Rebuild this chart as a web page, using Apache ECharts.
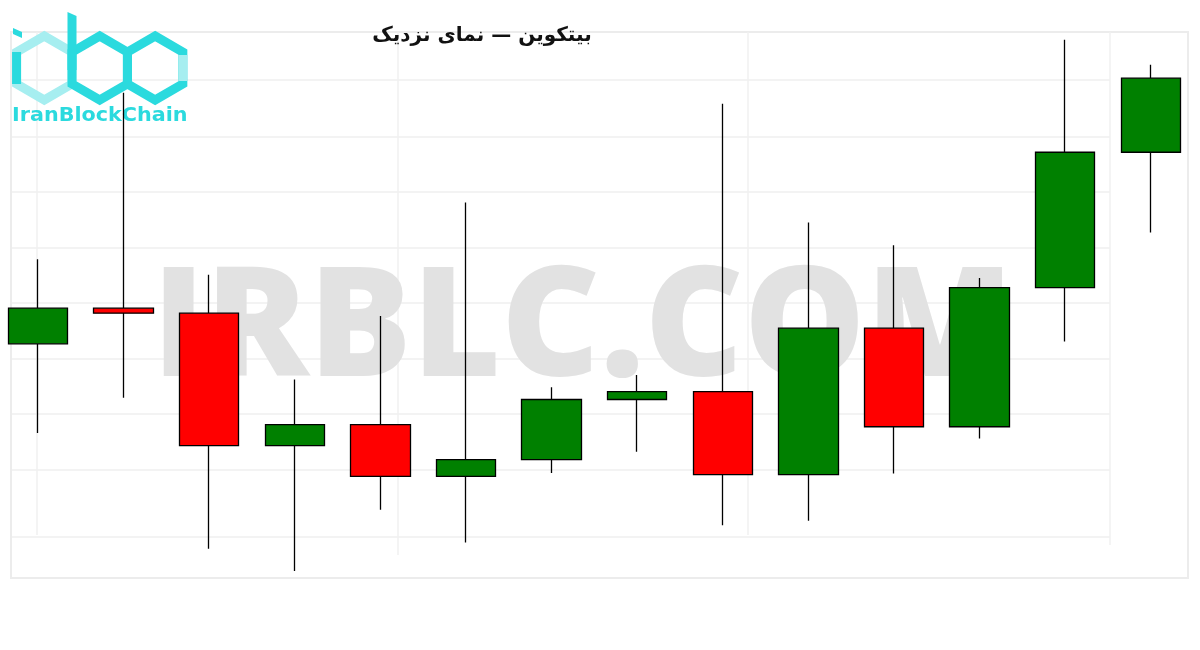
<!DOCTYPE html>
<html>
<head>
<meta charset="utf-8">
<title>بیتکوین — نمای نزدیک</title>
<script src="https://cdn.jsdelivr.net/npm/echarts@6/dist/echarts.min.js"></script>
<style>
  html, body { margin: 0; padding: 0; background: #fff; }
  #candleChart { width: 1200px; height: 650px; }
</style>
</head>
<body>
<div id="candleChart"></div>
<script>
// data (price units are arbitrary, no axis labels shown)
const categories = ['1', '2', '3', '4', '5', '6', '7', '8', '9', '10', '11', '12', '13', '14']
const opens = [426, 490, 481, 243, 281, 188, 218, 326, 340, 191, 454, 277, 527, 770]
const closes = [490, 481, 243, 281, 188, 218, 326, 340, 191, 454, 277, 527, 770, 903]
const lows = [266, 329, 58, 18, 128, 69, 194, 232, 100, 108, 193, 256, 430, 626]
const highs = [578, 877, 550, 362, 476, 680, 348, 370, 857, 644, 603, 544, 972, 927]

const chartTitle = 'بیتکوین — نمای نزدیک'
const watermark = 'IRBLC.COM'
const logoText = 'IranBlockChain'

// [index, open, close, low, high]
const candles = categories.map((c, i) => [i, opens[i], closes[i], lows[i], highs[i]])

// hexagon helper for the logo (pointy top)
function hexPoints(cx, cy, r) {
  const pts = []
  for (let k = 0; k < 6; k++) {
    const a = Math.PI / 2 - k * Math.PI / 3
    pts.push([cx + r * Math.cos(a), cy - r * Math.sin(a)])
  }
  return pts
}
const cyan = '#2bdade'
const cyanLight = '#a6eef0'
const hexR = 32
const hexDx = hexR * Math.sqrt(3) / 2

// faint background lines (decoration only)
const bgRows = [80, 137, 192, 248, 303, 359, 414, 470, 537]
const bgCols = [[37, 535], [398, 555], [748, 535], [1110, 545]]
const bgLines = []
bgRows.forEach(y => {
  bgLines.push({
    type: 'line', z: -10, silent: true,
    shape: { x1: 12, y1: y, x2: 1110, y2: y },
    style: { stroke: '#efefef', lineWidth: 1.5 },
  })
})
bgCols.forEach(c => {
  bgLines.push({
    type: 'line', z: -10, silent: true,
    shape: { x1: c[0], y1: 32, x2: c[0], y2: c[1] },
    style: { stroke: '#f1f1f1', lineWidth: 1.5 },
  })
})

const div = document.getElementById('candleChart')
const chart = echarts.init(div)

chart.setOption({
  animation: false,
  backgroundColor: '#fff',
  grid: {
    left: 0,
    right: 0,
    top: 32,
    bottom: 69,
  },
  xAxis: {
    type: 'value',
    min: -0.444,
    max: 13.575,
    axisLine: { show: false },
    axisTick: { show: false },
    axisLabel: { show: false },
    splitLine: { show: false },
  },
  yAxis: {
    type: 'value',
    min: 0,
    max: 986,
    axisLine: { show: false },
    axisTick: { show: false },
    axisLabel: { show: false },
    splitLine: { show: false },
  },
  graphic: [
    {
      type: 'rect',
      z: -10,
      silent: true,
      shape: { x: 11, y: 32, width: 1177, height: 546 },
      style: { fill: null, stroke: '#ececec', lineWidth: 2 },
    },
    ...bgLines,
    // big watermark
    {
      type: 'text',
      z: -5,
      silent: true,
      left: 152,
      top: 256,
      style: {
        text: watermark,
        font: '800 153px "Open Sans", sans-serif',
        fill: '#e2e2e2',
      },
    },
    // title
    {
      type: 'text',
      z: 10,
      x: 482,
      y: 26,
      style: {
        text: chartTitle,
        font: 'bold 20px "DejaVu Sans", sans-serif',
        fill: '#111',
        textAlign: 'center',
      },
    },
    // logo
    {
      type: 'group',
      z: 10,
      silent: true,
      children: [
        {
          type: 'polygon',
          shape: { points: hexPoints(72 - hexDx, 68, hexR) },
          style: { fill: null, stroke: cyanLight, lineWidth: 9, lineJoin: 'miter' },
        },
        {
          type: 'line',
          shape: { x1: 72 - 2 * hexDx, y1: 68 - hexR / 2, x2: 72 - 2 * hexDx, y2: 68 + hexR / 2 },
          style: { stroke: cyan, lineWidth: 9 },
        },
        {
          type: 'polygon',
          shape: { points: [[13, 28], [22, 32], [22, 38], [13, 34]] },
          style: { fill: cyan },
        },
        {
          type: 'polygon',
          shape: { points: hexPoints(72 + hexDx, 68, hexR) },
          style: { fill: null, stroke: cyan, lineWidth: 9, lineJoin: 'miter' },
        },
        {
          type: 'polygon',
          shape: { points: [[67.5, 12], [76.5, 16], [76.5, 70], [67.5, 70]] },
          style: { fill: cyan },
        },
        {
          type: 'polygon',
          shape: { points: hexPoints(72 + 3 * hexDx, 68, hexR) },
          style: { fill: null, stroke: cyan, lineWidth: 9, lineJoin: 'miter' },
        },
        {
          type: 'line',
          shape: { x1: 72 + 4 * hexDx, y1: 68 - hexR / 2 + 3, x2: 72 + 4 * hexDx, y2: 68 + hexR / 2 - 3 },
          style: { stroke: cyanLight, lineWidth: 9 },
        },
        {
          type: 'text',
          x: 12,
          y: 107,
          scaleX: 1.09,
          style: {
            text: logoText,
            font: 'bold 19px "DejaVu Sans", sans-serif',
            fill: cyan,
          },
        },
      ],
    },
  ],
  series: [
    {
      name: 'BTC',
      type: 'candlestick',
      data: candles,
      encode: { x: 0, y: [1, 2, 3, 4] },
      barWidth: 60,
      z: 3,
      itemStyle: {
        color: '#008000',
        color0: '#ff0000',
        borderColor: '#000000',
        borderColor0: '#000000',
        borderWidth: 1.3,
      },
    },
  ],
})

window.addEventListener('resize', () => chart.resize())
</script>
</body>
</html>
